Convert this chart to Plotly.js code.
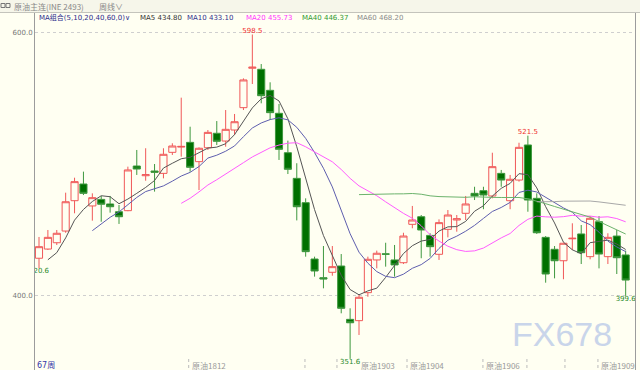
<!DOCTYPE html>
<html>
<head>
<meta charset="utf-8">
<script src="https://cdn.plot.ly/plotly-3.0.1.min.js"></script>
<style>html,body{margin:0;padding:0;background:#fffff2;}#chart{width:640px;height:370px;}</style>
</head>
<body>
<div id="chart"></div>
<script>
// ---- data (weekly candles, 67 weeks) ----
const openP = [428.2,435.2,440.0,448.9,472.0,484.7,468.0,473.0,469.5,463.6,
  464.4,498.4,491.0,494.6,492.8,508.8,512.8,516.4,501.7,512.3,
  523.3,517.4,525.8,542.8,572.8,572.0,556.0,538.5,508.5,489.0,
  470.5,427.6,413.4,417.5,422.3,381.7,380.7,402.0,426.9,431.6,
  426.9,424.8,454.0,459.8,445.6,431.2,450.2,457.3,462.4,477.6,
  479.6,475.6,492.8,472.0,487.7,514.4,473.8,444.1,435.0,426.3,
  443.0,446.7,429.4,456.0,429.4,445.1,430.7];
const highP = [444.4,449.7,449.7,478.1,489.5,494.1,477.6,475.6,475.6,468.7,
  497.9,510.6,511.9,499.9,511.9,515.7,550.4,528.3,512.6,525.8,
  532.6,541.0,538.0,565.1,598.5,576.0,562.1,545.6,517.7,500.5,
  473.8,429.4,437.5,437.5,431.4,390.1,401.0,429.4,434.0,440.0,
  438.3,447.6,468.0,461.1,447.2,457.8,464.9,461.1,475.6,482.6,
  482.6,508.5,495.4,491.6,516.1,521.5,477.6,445.1,437.5,440.0,
  454.8,453.5,460.3,460.3,447.2,449.7,434.0];
const lowP = [420.6,434.5,438.3,447.6,462.4,476.3,456.8,456.0,462.9,454.3,
  464.0,491.6,487.2,478.9,489.0,506.8,505.5,494.1,480.1,510.6,
  514.4,513.1,522.0,541.0,560.8,546.1,533.4,503.0,492.3,457.0,
  429.4,414.2,405.3,414.9,386.3,351.6,369.8,398.9,420.5,421.8,
  414.2,423.8,451.0,428.2,429.4,426.9,444.1,448.4,457.3,472.5,
  465.5,473.8,482.6,465.5,486.5,463.6,446.7,409.6,412.9,412.2,
  434.5,423.8,427.4,420.5,423.8,416.2,399.6];
const closeP = [437.0,444.1,447.2,471.2,486.5,477.6,474.3,469.3,467.4,459.8,
  495.4,496.1,491.8,493.6,507.3,513.6,513.3,497.4,511.9,524.0,
  517.2,526.3,532.1,563.9,573.6,551.9,539.0,511.1,495.9,467.4,
  433.2,418.5,412.4,421.8,390.1,379.1,398.5,427.4,432.0,431.2,
  423.1,445.1,457.3,449.7,437.0,455.3,461.1,458.3,469.5,475.6,
  476.3,497.9,487.7,488.3,512.6,472.5,447.6,416.2,426.3,439.6,
  443.4,432.4,458.6,431.4,444.1,428.6,411.6];
// closes of the 3 weeks before the visible window (estimated from where the MA lines start)
const priorCloses = [420.0, 415.0, 419.0];

const maPeriods = [5, 10, 20, 40, 60];
const maNames = ['MA5', 'MA10', 'MA20', 'MA40', 'MA60'];
const maLegendValues = ['434.80', '433.10', '455.73', '446.37', '468.20'];
const maColors = ['#555555', '#5e5eae', '#ff5cff', '#6cb36c', '#a8a8a8'];
const maTextColors = ['#333333', '#2f2f8f', '#ff33ff', '#2f992f', '#8a8a8a'];

const highMarks = [24, 55];
const lowMarks = [0, 35, 66];

const rollMarks = [16.84, 29.92, 33.52, 41.4, 49.94, 54.89, 59.17, 62.88];
const rollLabels = ['原油1812', '', '原油1903', '原油1904', '原油1906', '', '', '原油1909'];

const titleText = '原油主连(INE 2493)';
const periodText = '周线∨';
const maGroupText = 'MA组合(5,10,20,40,60,0)∨';
const countText = '67周';

// ---- build ----
const xs = closeP.map((_, i) => i);
const allCloses = priorCloses.concat(closeP);
const off = priorCloses.length;
function movingAvg(n) {
  return closeP.map((_, i) => {
    const end = i + off;
    if (end - n + 1 < 0) return null;
    let s = 0;
    for (let k = end - n + 1; k <= end; k++) s += allCloses[k];
    return s / n;
  });
}

const BG = '#fffff2';
const traces = [{
  type: 'candlestick', x: xs, open: openP, high: highP, low: lowP, close: closeP,
  increasing: {line: {color: '#f05858', width: 1}, fillcolor: BG},
  decreasing: {line: {color: '#3f983f', width: 1}, fillcolor: '#007000'},
  whiskerwidth: 0, hoverinfo: 'skip', showlegend: false
}];
maPeriods.forEach((n, j) => {
  traces.push({type: 'scatter', mode: 'lines', x: xs, y: movingAvg(n),
    line: {color: maColors[j], width: 1}, hoverinfo: 'skip', showlegend: false});
});
traces.push({type: 'scatter', mode: 'text', x: highMarks, y: highMarks.map(i => highP[i]),
  text: highMarks.map(i => highP[i].toFixed(1)), textposition: 'top center',
  textfont: {family: 'DejaVu Sans', size: 7, color: '#f03030'}, cliponaxis: true,
  hoverinfo: 'skip', showlegend: false});
traces.push({type: 'scatter', mode: 'text', x: lowMarks, y: lowMarks.map(i => lowP[i]),
  text: lowMarks.map(i => lowP[i].toFixed(1)), textposition: 'bottom center',
  textfont: {family: 'DejaVu Sans', size: 7, color: '#2a8a2a'}, cliponaxis: true,
  hoverinfo: 'skip', showlegend: false});

// pixel helpers for paper coords (plot area: x 35..635, y 13..370)
const PL = 35, PW = 600, PT = 13, PH = 357;
const px = v => (v - PL) / PW;
const py = v => 1 - (v - PT) / PH;

const annotations = [];
function note(text, x, y, color, size, family, anchor) {
  annotations.push({text: text, xref: 'paper', yref: 'paper', x: px(x), y: py(y),
    xanchor: anchor || 'left', yanchor: 'middle', showarrow: false,
    font: {family: family || 'DejaVu Sans, Noto Sans CJK SC', size: size || 7, color: color}});
}
note(titleText, 12, 6, '#888888', 8, 'Noto Sans CJK SC');
note(periodText, 97, 6, '#888888', 8, 'Noto Sans CJK SC');
note(maGroupText, 37, 18, '#2b2b8c', 7, 'DejaVu Sans, Noto Sans CJK SC');
const maX = [138, 185, 244, 300, 355];
maNames.forEach((nm, j) => note(nm + ' ' + maLegendValues[j], maX[j], 18, maTextColors[j], 7));
note(countText, 35, 365, '#3535a8', 8, 'DejaVu Sans, Noto Sans CJK SC');
// the 1903 label sits just right of the 351.6 low label so the two do not collide
const labelShift = [1, 1, 22, 1, 1, 1, 1, 1];
rollMarks.forEach((m, j) => {
  if (rollLabels[j]) annotations.push({text: rollLabels[j], xref: 'x', yref: 'paper', x: m, y: py(365),
    xanchor: 'left', yanchor: 'middle', xshift: labelShift[j], showarrow: false,
    font: {family: 'Noto Sans CJK SC', size: 8, color: '#999999'}});
});
annotations.push({text: 'FX678', xref: 'paper', yref: 'paper', x: px(562), y: py(334),
  xanchor: 'center', yanchor: 'middle', showarrow: false,
  font: {family: 'Liberation Sans', size: 34, color: '#c9d5ea'}});

const shapes = [
  {type: 'rect', xref: 'paper', yref: 'paper', x0: px(0), x1: px(640), y0: py(12.5), y1: py(0),
   fillcolor: '#f6f6ea', line: {width: 0}, layer: 'below'},
  {type: 'line', xref: 'paper', yref: 'paper', x0: px(0), x1: px(640), y0: py(12.5), y1: py(12.5),
   line: {color: '#c4c4bc', width: 1}},
  {type: 'rect', xref: 'paper', yref: 'paper', x0: px(1), x1: px(5), y0: py(7.5), y1: py(3.5),
   line: {color: '#777777', width: 1}},
  {type: 'rect', xref: 'paper', yref: 'paper', x0: px(6), x1: px(10), y0: py(7.5), y1: py(3.5),
   line: {color: '#777777', width: 1}}
];
rollMarks.forEach(m => shapes.push({type: 'line', xref: 'x', yref: 'paper', x0: m, x1: m,
  y0: py(359), y1: py(370), line: {color: '#bbbbbb', width: 1, dash: 'dot'}}));

const layout = {
  width: 640, height: 370,
  margin: {l: PL, r: 640 - PL - PW, t: PT, b: 0, pad: 0},
  paper_bgcolor: BG, plot_bgcolor: BG,
  boxgap: 0.2, boxgroupgap: 0,
  showlegend: false,
  xaxis: {range: [-0.45, 67.05], showgrid: false, zeroline: false, showticklabels: false,
    showline: false, ticks: '', rangeslider: {visible: false}, fixedrange: true},
  yaxis: {range: [343.15, 614.84], tickvals: [400, 600], ticktext: ['400.0', '600.0'],
    showgrid: true, gridcolor: '#cfcfcf', griddash: 'dot', gridwidth: 1,
    showline: true, linecolor: '#9c9c9c', linewidth: 1, mirror: true, ticks: '', zeroline: false,
    tickfont: {family: 'DejaVu Sans', size: 7, color: '#777777'}, fixedrange: true},
  annotations: annotations,
  shapes: shapes
};
Plotly.newPlot('chart', traces, layout, {displayModeBar: false, staticPlot: true});
</script>
</body>
</html>
